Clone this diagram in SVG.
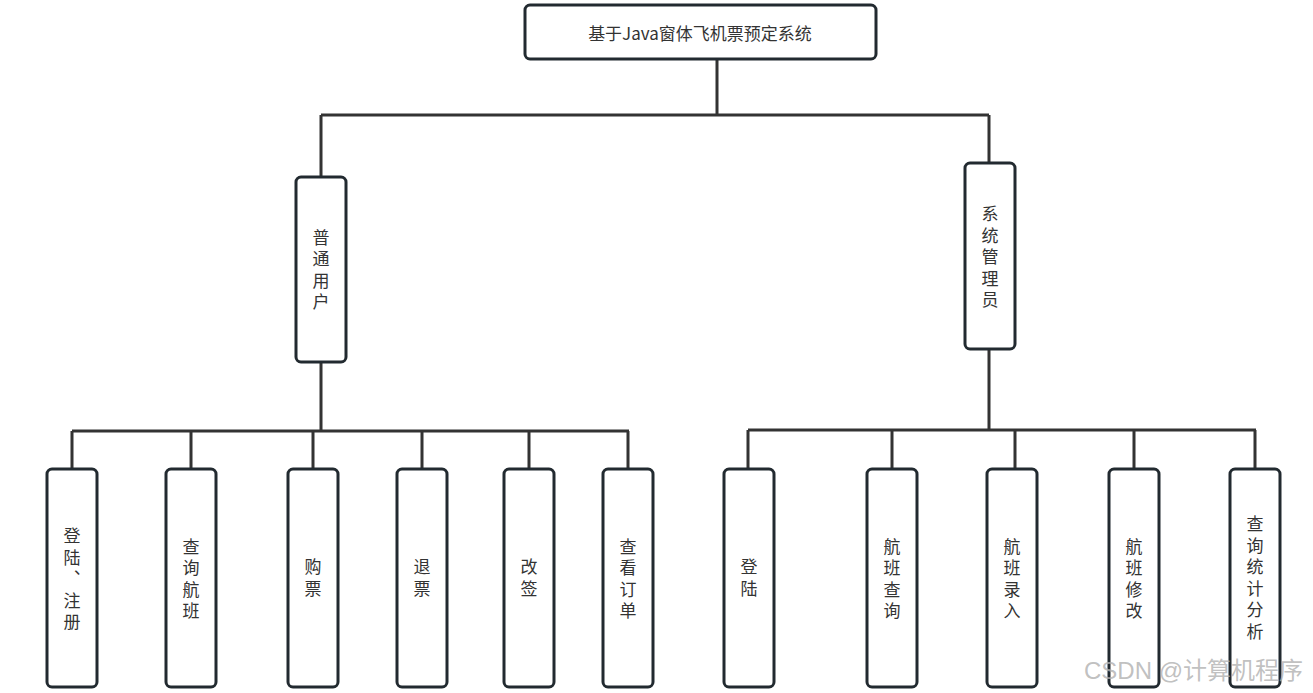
<svg xmlns="http://www.w3.org/2000/svg" width="1313" height="693" viewBox="0 0 1313 693">
<style>
.box{fill:#fff;stroke:#222a30;stroke-width:3}
.ln{fill:none;stroke:#333;stroke-width:3}
.t{font-family:"Noto Sans CJK SC","Liberation Sans",sans-serif;font-size:17px;fill:#333;text-anchor:middle;dominant-baseline:central}
.v{font-family:"Noto Sans CJK SC",sans-serif;font-size:17px;fill:#333;text-anchor:middle;writing-mode:vertical-rl;text-orientation:upright;letter-spacing:4.5px;dominant-baseline:central}
.wm{font-family:"Liberation Sans","Noto Sans CJK SC",sans-serif;font-size:24px;fill:#b0b0b0;fill-opacity:0.8}
</style>
<rect width="1313" height="693" fill="#fff"/>
<g id="connectors">
<path class="ln" d="M717 59V115M321 115H989M321 115V177M989 115V163"/>
<path class="ln" d="M321 362V431M72 431H629M72 431V469M191 431V469M313 431V469M422 431V469M529 431V469M628 431V469"/>
<path class="ln" d="M989 349V430M748 430H1256M748 430V469M892 430V469M1015 430V469M1134 430V469M1255 430V469"/>
</g>
<g id="root"><rect class="box" x="525" y="5" width="351" height="54" rx="5"/><text class="t" x="700" y="32">基于Java窗体飞机票预定系统</text></g>
<g id="user"><rect class="box" x="296" y="177" width="50" height="185" rx="5"/><text class="v" x="321" y="272">普通用户</text></g>
<g id="admin"><rect class="box" x="965" y="163" width="50" height="186" rx="5"/><text class="v" x="990" y="259">系统管理员</text></g>
<g id="login-register"><rect class="box" x="47" y="469" width="50" height="218" rx="5"/><text class="v" x="72" y="581">登陆、注册</text></g>
<g id="query-flight"><rect class="box" x="166" y="469" width="50" height="218" rx="5"/><text class="v" x="191" y="581">查询航班</text></g>
<g id="buy"><rect class="box" x="288" y="469" width="50" height="218" rx="5"/><text class="v" x="313" y="580">购票</text></g>
<g id="refund"><rect class="box" x="397" y="469" width="50" height="218" rx="5"/><text class="v" x="422" y="580">退票</text></g>
<g id="change"><rect class="box" x="504" y="469" width="50" height="218" rx="5"/><text class="v" x="529" y="580">改签</text></g>
<g id="orders"><rect class="box" x="603" y="469" width="50" height="218" rx="5"/><text class="v" x="628" y="581">查看订单</text></g>
<g id="admin-login"><rect class="box" x="724" y="469" width="50" height="218" rx="5"/><text class="v" x="749" y="580">登陆</text></g>
<g id="flight-query"><rect class="box" x="867" y="469" width="50" height="218" rx="5"/><text class="v" x="892" y="581">航班查询</text></g>
<g id="flight-add"><rect class="box" x="987" y="469" width="50" height="218" rx="5"/><text class="v" x="1012" y="581">航班录入</text></g>
<g id="flight-edit"><rect class="box" x="1109" y="469" width="50" height="218" rx="5"/><text class="v" x="1134" y="581">航班修改</text></g>
<g id="stats"><rect class="box" x="1230" y="469" width="50" height="218" rx="5"/><text class="v" x="1255" y="580">查询统计分析</text></g>
<text class="wm" x="1084" y="679">CSDN @计算机程序</text>
</svg>
